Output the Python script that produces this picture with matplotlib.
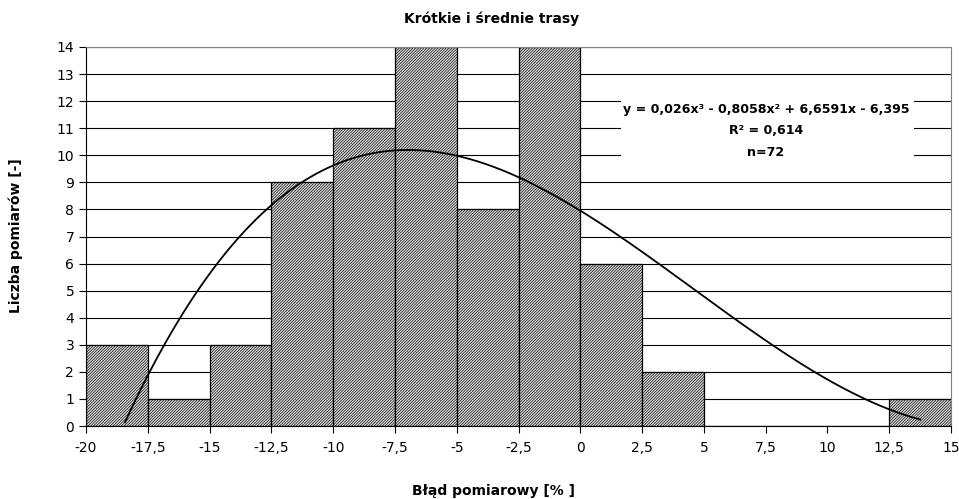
import numpy as np
import matplotlib
matplotlib.use("Agg")
import matplotlib.pyplot as plt

plt.rcParams['font.family'] = ['DejaVu Sans']
plt.rcParams['hatch.linewidth'] = 0.5

bin_edges = [-20, -17.5, -15, -12.5, -10, -7.5, -5, -2.5, 0, 2.5, 5, 7.5, 10, 12.5, 15]
counts = [3, 1, 3, 9, 11, 14, 8, 14, 6, 2, 0, 0, 0, 1]
tick_labels = ["-20", "-17,5", "-15", "-12,5", "-10", "-7,5", "-5", "-2,5", "0", "2,5", "5", "7,5", "10", "12,5", "15"]
poly_coeffs = [0.026, -0.8058, 6.6591, -6.395]  # cubic trend over bin index 1..14
eq_text = "y = 0,026x³ - 0,8058x² + 6,6591x - 6,395"
r2_text = "R² = 0,614"
n_text = "n=72"

W, H = 959, 499
fig = plt.figure(figsize=(W/100, H/100), dpi=100)
ax = fig.add_axes([86/W, 1-426/H, (951-86)/W, (426-47)/H])

lefts = np.array(bin_edges[:-1])
widths = np.diff(bin_edges)
ax.bar(lefts, counts, width=widths, align='edge', facecolor='#e4e4e4',
       edgecolor='black', hatch='/' * 12, linewidth=0.9, zorder=2)

# trend line (Excel polynomial on category index)
idx = np.linspace(1, 14, 400)
yv = np.polyval(poly_coeffs, idx)
mask = yv >= 0
xv = lefts[0] + widths[0] / 2 + (idx - 1) * widths[0]
ax.plot(xv[mask], yv[mask], color='black', linewidth=1.3, zorder=4)

ax.set_xlim(bin_edges[0], bin_edges[-1])
ax.set_ylim(0, 14)
ax.set_xticks(bin_edges)
ax.set_xticklabels(tick_labels)
ax.set_yticks(range(0, 15))
ax.yaxis.grid(True, color='black', linewidth=0.8, zorder=0)
ax.set_axisbelow(True)
ax.tick_params(axis='both', direction='out', length=5, width=0.8, labelsize=10, color='black')
ax.tick_params(axis='x', pad=6)
for s in ['left', 'bottom']:
    ax.spines[s].set_color('black')
ax.spines['top'].set_color('#808080')
ax.spines['right'].set_color('#808080')

# label box (white, hides grid lines)
def px2ax(px, py):
    return (px - 86) / (951 - 86), (426 - py) / (426 - 47)

bx0, by0 = px2ax(621, 172)
bx1, by1 = px2ax(914, 92)
ax.add_patch(plt.Rectangle((bx0, by0), bx1 - bx0, by1 - by0, transform=ax.transAxes,
                           facecolor='white', edgecolor='none', zorder=3))
cx, _ = px2ax(766, 0)
for txt, py in [(eq_text, 110), (r2_text, 131), (n_text, 152)]:
    ax.text(cx, px2ax(0, py)[1], txt, transform=ax.transAxes, ha='center', va='center',
            fontsize=9.1, fontweight='bold', zorder=5)

fig.text(492/W, 1-19/H, "Krótkie i średnie trasy", ha='center', va='center', fontsize=10, fontweight='bold')
fig.text(493/W, 1-491/H, "Błąd pomiarowy [% ]", ha='center', va='center', fontsize=10, fontweight='bold')
fig.text(16/W, 1-236/H, "Liczba pomiarów [-]", ha='center', va='center', rotation=90, fontsize=10, fontweight='bold')

fig.savefig("out.png", dpi=100)
